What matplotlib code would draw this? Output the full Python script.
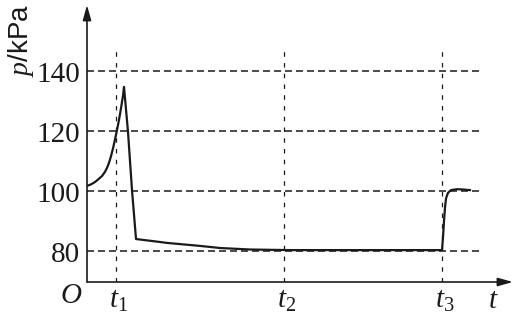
import matplotlib
matplotlib.use("Agg")
import matplotlib.pyplot as plt

# ---- data ----
t_curve = [0, 4, 8, 11, 15, 18, 20, 22, 24, 26, 28, 30, 32, 34, 36, 37,
           41, 45, 49, 56, 66, 80, 113, 133, 163, 203, 355,
           356, 357, 358, 359, 361, 364, 370, 376, 383]
p_curve = [101.7, 102.2, 103.0, 103.8, 105.0, 106.4, 107.7, 109.4, 111.6, 114.2, 117.2, 120.3,
           123.7, 127.6, 131.8, 134.7,
           119.7, 100.3, 84.0, 83.7, 83.3, 82.7, 81.7, 81.0, 80.5, 80.3, 80.3,
           84.5, 90.0, 94.5, 97.5, 99.4, 100.3, 100.6, 100.5, 100.3]
p_ticks = [80, 100, 120, 140]
t_marks = [29, 197, 355]
t_labels = [r"$t_1$", r"$t_2$", r"$t_3$"]

plt.rcParams["mathtext.fontset"] = "custom"
plt.rcParams["mathtext.rm"] = "Liberation Serif"
plt.rcParams["mathtext.it"] = "Liberation Serif:italic"

ink = "#1a1a1a"
fig = plt.figure(figsize=(5.22, 3.25), dpi=100)
ax = fig.add_axes([87 / 522, 43 / 325, 426 / 522, 277 / 325])
ax.set_xlim(0, 426)
ax.set_ylim(69.67, 162.0)
ax.axis("off")

# dashed guide lines
ax.hlines(p_ticks, 0, 396, colors=ink, lw=1.1, linestyles=[(0, (4.6, 2.6))])
ax.vlines(t_marks, 69.67, 148.0, colors=ink, lw=0.9, linestyles=[(0, (3.6, 5.0))])

# curve
ax.plot(t_curve, p_curve, color=ink, lw=1.6, solid_joinstyle="round")

# axes with arrows
arrow = dict(arrowstyle="-|>,head_length=0.9,head_width=0.25", color=ink, lw=1.2,
             shrinkA=0, shrinkB=0)
ax.annotate("", xy=(1, 0), xytext=(0, 0), xycoords="axes fraction",
            arrowprops=arrow, annotation_clip=False)
ax.annotate("", xy=(0, 1), xytext=(0, 0), xycoords="axes fraction",
            arrowprops=arrow, annotation_clip=False)

# tick labels
for v in p_ticks:
    ax.annotate(str(v), xy=(0, v), xytext=(-5, -8), textcoords="offset points",
                ha="right", va="baseline", fontsize=21, family="Liberation Serif",
                color=ink, annotation_clip=False)

for t, lab in zip(t_marks, t_labels):
    ax.text(t + 3, 61.0, lab, ha="center", va="baseline", fontsize=21, color=ink,
            clip_on=False)

ax.text(-16, 62.7, r"$O$", ha="center", va="baseline", fontsize=21, color=ink, clip_on=False)
ax.text(406, 61.0, r"$t$", ha="center", va="baseline", fontsize=21, color=ink, clip_on=False)

ax.text(-66, 150, r"$p$/kPa", rotation=90, ha="center", va="center", fontsize=20,
        family="Liberation Sans", color=ink, clip_on=False)

fig.savefig("out.png", dpi=100, facecolor="white")
